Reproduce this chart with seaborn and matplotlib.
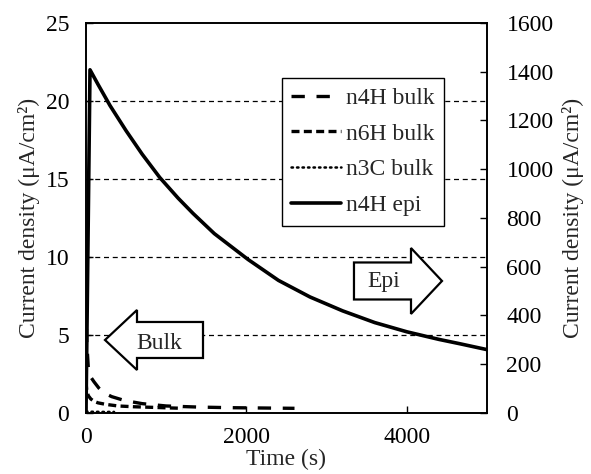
import numpy as np
import pandas as pd
import matplotlib
matplotlib.use("Agg")
import matplotlib.pyplot as plt
from matplotlib.patches import FancyArrow
import seaborn as sns

# ---- data ----
t_n4h = [0, 10, 30, 60, 100, 160, 220, 320, 480, 700, 1000, 1400, 1800, 2200, 2600]
y_n4h = [7.0, 4.5, 2.8, 2.3, 2.0, 1.6, 1.3, 1.05, 0.8, 0.6, 0.45, 0.38, 0.34, 0.32, 0.3]

t_n6h = [0, 10, 30, 60, 100, 150, 250, 400, 600, 900, 1200]
y_n6h = [2.0, 1.4, 1.1, 0.9, 0.75, 0.65, 0.55, 0.45, 0.4, 0.35, 0.3]

t_n3c = [0, 50, 100, 200, 300, 350]
y_n3c = [0.1, 0.08, 0.08, 0.07, 0.07, 0.07]

t_epi = [0, 50, 150, 300, 500, 700, 920, 1150, 1334, 1600, 2020, 2400, 2793,
         3200, 3600, 4002, 4400, 4663, 5000]
y_epi = [0, 1408, 1348, 1261, 1158, 1062, 966, 881, 819, 736, 630, 544, 476,
         419, 371, 333, 302, 284, 260]

left_ticks = [0, 5, 10, 15, 20, 25]
right_ticks = [0, 200, 400, 600, 800, 1000, 1200, 1400, 1600]
x_ticks = [0, 2000, 4000]

sns.set_style("ticks")
plt.rcParams['font.family'] = ['Liberation Serif', 'DejaVu Serif']
plt.rcParams['font.size'] = 17
plt.rcParams['xtick.direction'] = 'in'
plt.rcParams['ytick.direction'] = 'in'

fig = plt.figure(figsize=(5.91, 4.74), dpi=100)
ax = fig.add_axes([0.1455, 0.1287, 0.824 - 0.1455, 0.9515 - 0.1287])
ax2 = ax.twinx()

df_n4h = pd.DataFrame({"t": t_n4h, "y": y_n4h})
df_n6h = pd.DataFrame({"t": t_n6h, "y": y_n6h})
df_n3c = pd.DataFrame({"t": t_n3c, "y": y_n3c})
df_epi = pd.DataFrame({"t": t_epi, "y": y_epi})

lw = 2.4
sns.lineplot(data=df_n4h, x="t", y="y", ax=ax, color="black", lw=lw,
             linestyle=(0, (4, 3.5)), label="n4H bulk", legend=False)
sns.lineplot(data=df_n6h, x="t", y="y", ax=ax, color="black", lw=lw,
             linestyle=(0, (2.4, 1.3)), label="n6H bulk", legend=False)
sns.lineplot(data=df_n3c, x="t", y="y", ax=ax, color="black", lw=1.8,
             linestyle=(0, (0.6, 1.6)), dash_capstyle='round', label="n3C bulk", legend=False)
sns.lineplot(data=df_epi, x="t", y="y", ax=ax2, color="black", lw=2.6,
             label="n4H epi", legend=False)

ax.set_xlim(0, 5000)
ax.set_ylim(0, 25)
ax2.set_ylim(0, 1600)
ax.set_xticks(x_ticks)
ax.set_yticks(left_ticks)
ax2.set_yticks(right_ticks)

for g in [5, 10, 15, 20]:
    ax.axhline(g, color="black", lw=0.9, linestyle=(0, (4, 3)), zorder=0)

ax.set_xlabel("Time (s)", labelpad=1)
ax.set_ylabel("Current density (μA/cm²)", labelpad=4)
ax2.set_ylabel("Current density (μA/cm²)", labelpad=6)

for a in (ax, ax2):
    for s in a.spines.values():
        s.set_linewidth(1.2)
        s.set_color("black")
    a.tick_params(length=5, width=1, colors="black", labelsize=17)
ax.tick_params(axis='x', pad=10)
ax.tick_params(axis='y', pad=12)
ax2.tick_params(axis='y', pad=14)

# legend
h1, l1 = ax.get_legend_handles_labels()
h2, l2 = ax2.get_legend_handles_labels()
leg = ax2.legend(h1 + h2, l1 + l2, loc="upper left",
                 bbox_to_anchor=(282 / 591, 1 - 78 / 474), bbox_transform=fig.transFigure,
                 frameon=True, fancybox=False, edgecolor="black", framealpha=1,
                 fontsize=17, handlelength=2.1, handletextpad=0.2, labelspacing=0.6,
                 borderpad=0.4, borderaxespad=0)
leg.get_frame().set_linewidth(1.0)

# arrow annotations (outlined block arrows)
bulk_arrow = FancyArrow(0.2918, 0.1872, -0.2444, 0.0, width=0.0923, head_width=0.1538,
                        head_length=0.0798, length_includes_head=True,
                        transform=ax2.transAxes, fc="white", ec="black", lw=1.6, zorder=5)
epi_arrow = FancyArrow(0.6683, 0.3385, 0.2195, 0.0, width=0.0949, head_width=0.169,
                       head_length=0.0773, length_includes_head=True,
                       transform=ax2.transAxes, fc="white", ec="black", lw=1.6, zorder=5)
ax2.add_patch(bulk_arrow)
ax2.add_patch(epi_arrow)
ax2.text(0.182, 0.179, "Bulk", transform=ax2.transAxes, ha="center", va="center",
         fontsize=17, zorder=6)
ax2.text(0.743, 0.336, "Epi", transform=ax2.transAxes, ha="center", va="center",
         fontsize=17, zorder=6)

fig.savefig("out.png", dpi=100)
